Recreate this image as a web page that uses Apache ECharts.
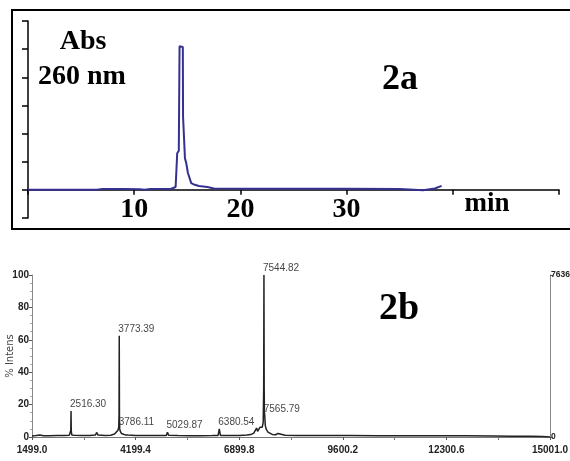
<!DOCTYPE html>
<html>
<head>
<meta charset="utf-8">
<style>
  html, body { margin: 0; padding: 0; background: #fff; }
  #chart { width: 570px; height: 461px; }
</style>
<script src="https://cdn.jsdelivr.net/npm/echarts@6/dist/echarts.min.js"></script>
</head>
<body>
<div id="chart"></div>
<script>
// 2a: HPLC trace, absorbance at 260 nm vs time (min)
const hplcTime = [0, 3, 6.5, 7, 9, 10.5, 11, 11.5, 12.5, 13.5, 13.9, 14.05, 14.2, 14.27, 14.4, 14.58, 14.6, 14.74, 14.78, 14.9, 15.06, 15.37, 15.7, 16.1, 16.9, 17.5, 20, 25, 30, 35, 37.2, 38.3, 38.95]
const hplcAbs = [0, 0, 0, 0.03, 0.03, 0.02, 0, 0.03, 0.03, 0.04, 0.1, 1.3, 1.39, 5.1, 5.1, 5.08, 2.6, 2.58, 1.12, 0.95, 0.6, 0.24, 0.18, 0.14, 0.1, 0.05, 0.04, 0.04, 0.04, 0.03, -0.01, 0.05, 0.14]
const hplcTicks = [10, 20, 30]

// 2b: MALDI spectrum, % intensity vs m/z
const msMass = [1499, 1560, 1620, 1660, 1700, 1800, 1950, 2150, 2350, 2470, 2500, 2510, 2516.3, 2522, 2535, 2600, 2800, 3000, 3150, 3184, 3220, 3400, 3550, 3650, 3700, 3740, 3760, 3768, 3773.39, 3779, 3786.11, 3800, 3830, 3870, 3930, 3966, 4000, 4200, 4500, 4800, 5000, 5029.87, 5060, 5300, 5600, 5900, 6200, 6350, 6380.54, 6410, 6600, 6900, 7100, 7200, 7280, 7330, 7353, 7380, 7420, 7440, 7470, 7500, 7525, 7538, 7544.82, 7551, 7558, 7565.79, 7580, 7610, 7650, 7700, 7760, 7850, 7908, 7960, 8100, 8400, 8800, 9300, 9800, 10500, 11200, 12000, 12800, 13500, 14000, 14500, 14800, 15001]
const msIntens = [0.6, 0.7, 1.0, 2.2, 1.2, 0.8, 0.8, 0.9, 1.0, 1.1, 1.5, 4, 16, 4, 1.3, 1.1, 1.0, 1.0, 1.2, 2.8, 1.2, 1.0, 1.1, 1.8, 2.8, 4.2, 6, 14, 62.5, 10, 5, 3.5, 2.2, 1.6, 1.3, 2.2, 1.2, 1.0, 0.9, 0.9, 1.0, 3, 1.1, 0.9, 0.8, 0.8, 0.9, 1.0, 5, 1.0, 0.9, 1.0, 1.2, 1.5, 2.4, 3.5, 5.5, 3.5, 4.5, 6, 5, 6, 9, 30, 100, 30, 15, 13, 7, 4.5, 3, 2, 1.6, 1.4, 2.2, 1.2, 1.1, 1.0, 1.0, 0.9, 0.9, 0.8, 0.8, 0.7, 0.7, 0.6, 0.5, 0.5, 0.3, 0]
const peakMass = [2516.30, 3773.39, 3786.11, 5029.87, 6380.54, 7544.82, 7565.79]
const msTicks = [1499.0, 4199.4, 6899.8, 9600.2, 12300.6, 15001.0]
const msMaxCounts = 7636

const msStart = msTicks[0]
const msStep = msTicks[1] - msTicks[0]
const serif = '"Liberation Serif", "Times New Roman", serif'
const sans = '"Liberation Sans", Arial, sans-serif'

// top panel: y axis runs from -1 to 6, the time axis sits on 0
const topGrid = { left: 28, right: 11, top: 21, bottom: 243 }
const topStep = (461 - topGrid.top - topGrid.bottom) / 7

const chart = echarts.init(document.getElementById('chart'))

const option = {
  animation: false,
  grid: [
    Object.assign({ outerBoundsMode: 'none' }, topGrid),
    { left: 32, right: 20, top: 275, bottom: 24, outerBoundsMode: 'none' },
  ],
  xAxis: [
    {
      gridIndex: 0, type: 'value', min: 0, max: 50, interval: 10,
      offset: -topStep,
      axisLine: { onZero: false, lineStyle: { color: '#000', width: 1.5 } },
      axisTick: { length: 5, lineStyle: { color: '#000', width: 1.5 } },
      axisLabel: {
        margin: 6, color: '#000', fontFamily: serif, fontWeight: 'bold', fontSize: 28,
        formatter: v => (hplcTicks.includes(v) ? String(v) : ''),
      },
      splitLine: { show: false },
    },
    {
      gridIndex: 1, type: 'value', min: 0, max: msTicks[msTicks.length - 1] - msStart, interval: msStep,
      axisLine: { onZero: false, lineStyle: { color: '#777', width: 1 } },
      axisTick: { length: 3, lineStyle: { color: '#555' } },
      minorTick: { show: true, splitNumber: 2, length: 3, lineStyle: { color: '#777' } },
      axisLabel: {
        margin: 8, color: '#222', fontFamily: sans, fontWeight: 'bold', fontSize: 10,
        formatter: v => (v + msStart).toFixed(1),
      },
      splitLine: { show: false },
    },
  ],
  yAxis: [
    {
      gridIndex: 0, type: 'value', min: -1, max: 6, interval: 1,
      axisLine: { show: true, lineStyle: { color: '#000', width: 1.5 } },
      axisTick: { show: true, length: 6, lineStyle: { color: '#000', width: 1.5 } },
      axisLabel: { show: false },
      splitLine: { show: false },
    },
    {
      gridIndex: 1, type: 'value', min: 0, max: 100, interval: 20, position: 'left',
      name: '% Intens', nameLocation: 'middle', nameGap: 17, nameRotate: 90, nameMoveOverlap: false,
      nameTextStyle: { fontFamily: '"DejaVu Sans", sans-serif', fontSize: 10, color: '#444' },
      axisLine: { show: true, lineStyle: { color: '#888', width: 1 } },
      axisTick: { show: true, length: 3, lineStyle: { color: '#555' } },
      minorTick: { show: true, splitNumber: 4, length: 2, lineStyle: { color: '#aaa' } },
      axisLabel: { margin: 3, color: '#222', fontFamily: sans, fontWeight: 'bold', fontSize: 10 },
      splitLine: { show: false },
    },
    {
      gridIndex: 1, type: 'value', min: 0, max: msMaxCounts, interval: msMaxCounts, position: 'right',
      axisLine: { show: true, lineStyle: { color: '#888', width: 1 } },
      axisTick: { show: true, length: 3, lineStyle: { color: '#555' } },
      axisLabel: { margin: 1, color: '#222', fontFamily: sans, fontWeight: 'bold', fontSize: 8.5, formatter: v => String(v) },
      splitLine: { show: false },
    },
  ],
  series: [
    {
      type: 'line', xAxisIndex: 0, yAxisIndex: 0, showSymbol: false,
      lineStyle: { color: '#35318f', width: 2 },
      data: hplcTime.map((t, i) => [t, hplcAbs[i]]),
    },
    {
      type: 'line', xAxisIndex: 1, yAxisIndex: 1, showSymbol: false,
      lineStyle: { color: '#222', width: 1.5 },
      data: msMass.map((m, i) => [m - msStart, msIntens[i]]),
    },
    {
      type: 'scatter', xAxisIndex: 1, yAxisIndex: 1, symbolSize: 0,
      label: {
        show: true, position: [-1, -7], align: 'left', verticalAlign: 'middle',
        fontFamily: sans, fontSize: 10, color: '#111',
        formatter: p => peakMass[p.dataIndex].toFixed(2),
      },
      data: peakMass.map(m => [m - msStart, msIntens[msMass.indexOf(m)]]),
    },
  ],
  graphic: [
    { type: 'rect', shape: { x: 12, y: 10, width: 600, height: 219 }, style: { fill: 'none', stroke: '#000', lineWidth: 2 } },
    { type: 'text', x: 83, y: 42, style: { text: 'Abs', fontFamily: serif, fontWeight: 'bold', fontSize: 28, fill: '#000', align: 'center', verticalAlign: 'middle' } },
    { type: 'text', x: 82, y: 77, style: { text: '260 nm', fontFamily: serif, fontWeight: 'bold', fontSize: 28, fill: '#000', align: 'center', verticalAlign: 'middle' } },
    { type: 'text', x: 400, y: 80, style: { text: '2a', fontFamily: serif, fontWeight: 'bold', fontSize: 36, fill: '#000', align: 'center', verticalAlign: 'middle' } },
    { type: 'text', x: 487, y: 204, style: { text: 'min', fontFamily: serif, fontWeight: 'bold', fontSize: 27, fill: '#000', align: 'center', verticalAlign: 'middle' } },
    { type: 'text', x: 399, y: 309, style: { text: '2b', fontFamily: serif, fontWeight: 'bold', fontSize: 38, fill: '#000', align: 'center', verticalAlign: 'middle' } },
  ],
}

chart.setOption(option)
window.addEventListener('resize', function () {
  chart.resize()
})
</script>
</body>
</html>
